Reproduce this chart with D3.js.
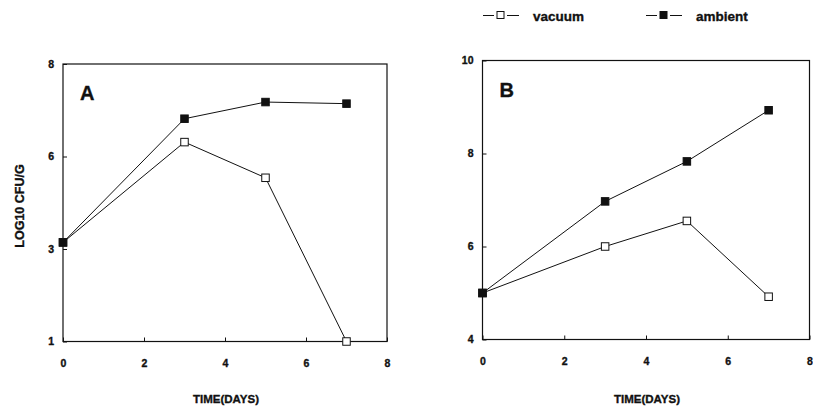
<!DOCTYPE html>
<html>
<head>
<meta charset="utf-8">
<script src="https://cdn.jsdelivr.net/npm/d3@7"></script>
<style>
  html, body { margin: 0; padding: 0; background: #fff; }
  svg { display: block; }
  text { font-family: "Liberation Sans", Arial, sans-serif; font-weight: bold; fill: #111;
         stroke: #111; stroke-width: 0.35px; }
</style>
</head>
<body>
<svg id="chart" width="813" height="410"></svg>
<script>
// Storage time (days) and log10 counts for each atmosphere
const days = [0, 3, 5, 7];
const vacuumA  = [3.5, 6.03, 5.13, 1.0];
const ambientA = [3.5, 6.62, 7.04, 7.0];
const vacuumB  = [5.0, 6.0, 6.55, 4.92];
const ambientB = [5.0, 6.97, 7.83, 8.93];

const xTicks = [0, 2, 4, 6, 8];
const yDomainA = [1, 8];   // four evenly spaced ticks, printed as whole numbers
const yDomainB = [4, 10];
const yTicksB = [4, 6, 8, 10];
const seriesNames = ["vacuum", "ambient"];
const yTitle = "LOG10 CFU/G";
const xTitle = "TIME(DAYS)";

const svg = d3.select("#chart");
const ink = "#111";

function panel(opts) {
  const { left, right, top, bottom, yDomain, yTickVals, vac, amb, letter } = opts;
  const x = d3.scaleLinear().domain([0, 8]).range([left, right]);
  const y = d3.scaleLinear().domain(yDomain).range([bottom, top]);
  const g = svg.append("g");

  // frame
  g.append("rect")
    .attr("x", left).attr("y", top)
    .attr("width", right - left).attr("height", bottom - top)
    .attr("fill", "none").attr("stroke", ink).attr("stroke-width", 1.2);

  // axes with short inward ticks
  const xAxis = d3.axisBottom(x).tickValues(xTicks).tickSize(-4).tickPadding(18)
    .tickFormat(d3.format("d"));
  const gx = g.append("g").attr("transform", `translate(0,${bottom})`).call(xAxis);
  const yAxis = d3.axisLeft(y).tickValues(yTickVals).tickSize(-4).tickPadding(9)
    .tickFormat(d3.format(".0f"));
  const gy = g.append("g").attr("transform", `translate(${left},0)`).call(yAxis);
  [gx, gy].forEach(a => {
    a.select(".domain").remove();
    a.selectAll(".tick line").attr("stroke", ink).attr("stroke-width", 1);
    a.selectAll(".tick text").attr("font-size", 10.5).attr("font-family", "Liberation Sans, Arial")
      .attr("font-weight", "bold").attr("fill", ink);
  });

  const line = d3.line().x((d, i) => x(days[i])).y(d => y(d));
  [vac, amb].forEach(s => {
    g.append("path").attr("d", line(s))
      .attr("fill", "none").attr("stroke", ink).attr("stroke-width", 1);
  });

  const sz = 7.5;
  g.selectAll(".vac").data(vac).enter().append("rect")
    .attr("x", (d, i) => x(days[i]) - sz / 2).attr("y", d => y(d) - sz / 2)
    .attr("width", sz).attr("height", sz)
    .attr("fill", "#fff").attr("stroke", ink).attr("stroke-width", 1);
  g.selectAll(".amb").data(amb).enter().append("rect")
    .attr("x", (d, i) => x(days[i]) - sz / 2).attr("y", d => y(d) - sz / 2)
    .attr("width", sz).attr("height", sz)
    .attr("fill", ink).attr("stroke", ink).attr("stroke-width", 1);

  g.append("text").attr("x", left + 17).attr("y", top + 36)
    .attr("font-size", 20).text(letter);

  g.append("text").attr("x", (left + right) / 2 + 1).attr("y", 403)
    .attr("text-anchor", "middle").attr("font-size", 11.5).text(xTitle);
}

panel({
  left: 63, right: 387, top: 64, bottom: 341.5,
  yDomain: yDomainA,
  yTickVals: d3.range(4).map(i => yDomainA[0] + i * (yDomainA[1] - yDomainA[0]) / 3),
  vac: vacuumA, amb: ambientA, letter: "A"
});
panel({
  left: 482.5, right: 809.5, top: 60.5, bottom: 339.5,
  yDomain: yDomainB, yTickVals: yTicksB,
  vac: vacuumB, amb: ambientB, letter: "B"
});

// y-axis title
svg.append("text")
  .attr("transform", "translate(24,206) rotate(-90)")
  .attr("text-anchor", "middle").attr("font-size", 12.5).text(yTitle);

// legend
const legend = [
  { name: seriesNames[0], fill: "#fff", x: 483 },
  { name: seriesNames[1], fill: ink, x: 646 }
];
legend.forEach(l => {
  const cy = 15.5;
  const lg = svg.append("g");
  lg.append("line").attr("x1", l.x).attr("x2", l.x + 11).attr("y1", cy).attr("y2", cy)
    .attr("stroke", ink).attr("stroke-width", 1);
  lg.append("line").attr("x1", l.x + 24).attr("x2", l.x + 36).attr("y1", cy).attr("y2", cy)
    .attr("stroke", ink).attr("stroke-width", 1);
  lg.append("rect").attr("x", l.x + 14).attr("y", cy - 4).attr("width", 7).attr("height", 7)
    .attr("fill", l.fill).attr("stroke", ink).attr("stroke-width", 1);
  lg.append("text").attr("x", l.x + 50).attr("y", cy + 5).attr("font-size", 13.5).text(l.name);
});
</script>
</body>
</html>
